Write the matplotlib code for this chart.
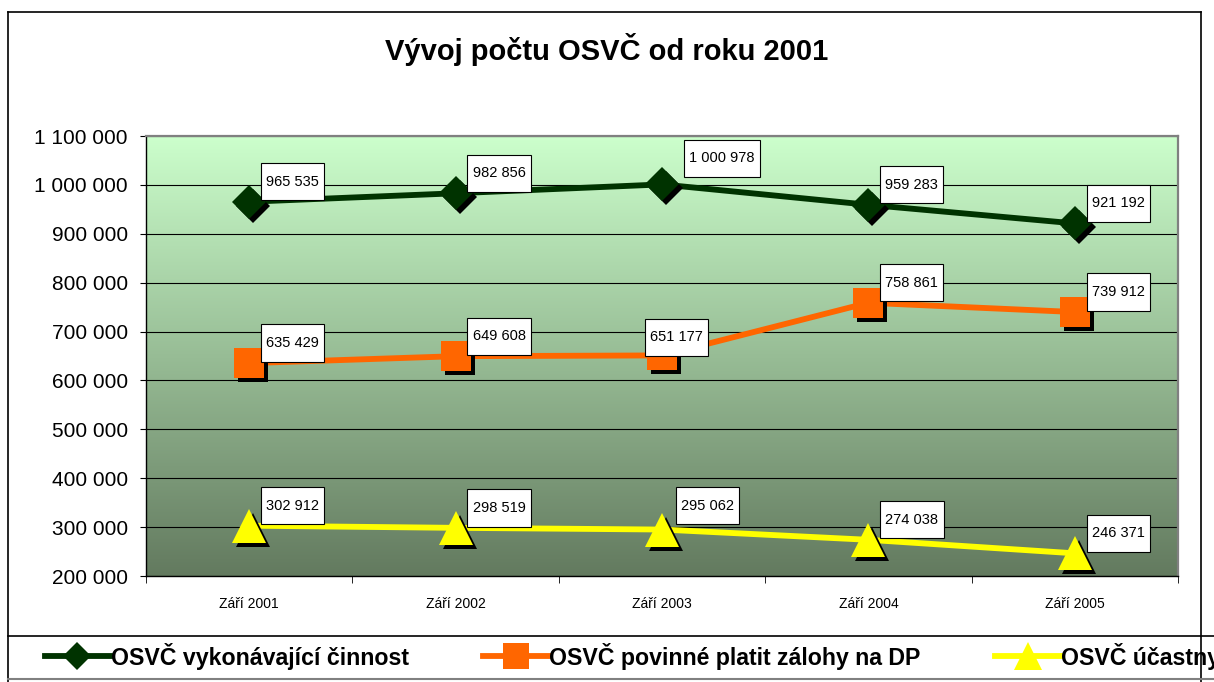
import numpy as np
import matplotlib
matplotlib.use('Agg')
import matplotlib.pyplot as plt
import matplotlib.transforms as mtransforms
from matplotlib.lines import Line2D
from matplotlib.path import Path
from matplotlib.ticker import FuncFormatter, FixedLocator

plt.rcParams['font.family'] = ['Liberation Sans', 'DejaVu Sans']

# data
months = ['Září 2001', 'Září 2002', 'Září 2003', 'Září 2004', 'Září 2005']
vykonavajici = [965535, 982856, 1000978, 959283, 921192]
zalohy_dp = [635429, 649608, 651177, 758861, 739912]
ucastni = [302912, 298519, 295062, 274038, 246371]
series_names = ['OSVČ vykonávající činnost',
                'OSVČ povinné platit zálohy na DP',
                'OSVČ účastny']

W, H = 1214, 682
fig = plt.figure(figsize=(W / 100, H / 100), dpi=100)
fig.patch.set_facecolor('white')
ax = fig.add_axes([146 / W, 1 - 576 / H, (1178 - 146) / W, (576 - 136) / H])

x = np.arange(len(months))
ax.set_xlim(-0.5, len(months) - 0.5)
ax.set_ylim(200000, 1100000)

# gradient plot area, light green at top -> dark grey green at bottom
top_c = np.array([204, 255, 204]) / 255
bot_c = np.array([99, 122, 95]) / 255
t = np.linspace(0, 1, 256)[:, None]
grad = (top_c[None, :] * (1 - t) + bot_c[None, :] * t)[:, None, :]
ax.imshow(grad, extent=(-0.5, len(months) - 0.5, 200000, 1100000),
          aspect='auto', zorder=0, origin='upper')

ax.yaxis.set_major_locator(FixedLocator(np.arange(200000, 1100001, 100000)))
ax.grid(axis='y', color='black', linewidth=0.8, zorder=1)
ax.yaxis.set_major_formatter(FuncFormatter(lambda v, p: f'{v:,.0f}'.replace(',', ' ')))
ax.tick_params(axis='y', labelsize=15, length=4, pad=9, color='black')

ax.set_xticks(x)
ax.set_xticklabels(months, fontsize=10)
ax.set_xticks(np.arange(-0.5, len(months), 1), minor=True)
ax.tick_params(axis='x', which='major', length=0, pad=15)
ax.tick_params(axis='x', which='minor', length=5, color='black')

for s in ['left', 'bottom']:
    ax.spines[s].set_color('black')
    ax.spines[s].set_linewidth(1)
for s in ['top', 'right']:
    ax.spines[s].set_color('#808080')
    ax.spines[s].set_linewidth(1.6)

shadow = mtransforms.offset_copy(ax.transData, fig=fig, x=4, y=-4, units='dots')

styles = [
    (vykonavajici, '#003300', 'D', 17.5),
    (zalohy_dp, '#FF6600', 's', 22),
    (ucastni, '#FFFF00', '^', 25),
]

handles = []
for (vals, col, mk, ms), name in zip(styles, series_names):
    ax.plot(x, vals, color=col, linewidth=4.2, zorder=3, solid_capstyle='butt')
    ax.plot(x, vals, linestyle='none', marker=mk, markersize=ms,
            color='black', markeredgewidth=0, transform=shadow, zorder=4)
    ax.plot(x, vals, linestyle='none', marker=mk, markersize=ms,
            color=col, markeredgewidth=0, zorder=5)
    handles.append(Line2D([], [], color=col, linewidth=4.2, marker=mk,
                          markersize=ms * 0.82, markeredgewidth=0, label=name))


def label_box(x0, y0, width, height, mutation_size):
    px = 0.35 * mutation_size
    py = 0.8 * mutation_size
    x0, y0 = x0 - px, y0 - py
    x1, y1 = x0 + width + 2 * px, y0 + height + 2 * py
    return Path([(x0, y0), (x1, y0), (x1, y1), (x0, y1), (x0, y0)], closed=True)


# label offsets in pixels (left edge, centre) from the marker
special = {1000978: (27, -26), 651177: (-12, -18), 295062: (19, -24)}
for vals in [vykonavajici, zalohy_dp, ucastni]:
    for xi, v in zip(x, vals):
        dx, dy = special.get(v, (17, -20))
        ax.annotate(f'{v:,}'.replace(',', ' '), (xi, v), xytext=(dx, -dy),
                    textcoords='offset pixels', ha='left', va='center',
                    fontsize=10.5, zorder=6,
                    bbox=dict(boxstyle=label_box, facecolor='white',
                              edgecolor='black', linewidth=0.8))

fig.text(0.5, 1 - 50 / H, 'Vývoj počtu OSVČ od roku 2001', ha='center',
         va='center', fontsize=21, fontweight='bold')

leg = fig.legend(handles=handles, loc='center left',
                 bbox_to_anchor=(45 / W, 1 - 656 / H), ncol=3, frameon=False,
                 prop={'size': 16.7, 'weight': 'bold'}, handlelength=2.8,
                 handletextpad=0.05, columnspacing=3.2, borderpad=0,
                 borderaxespad=0)

# outer chart border and legend box lines
def fline(xs, ys, color='black', lw=1.2):
    fig.add_artist(Line2D([v / W for v in xs], [1 - v / H for v in ys],
                          color=color, linewidth=lw, zorder=10))

fline([8, 1201], [12, 12])
fline([8, 8], [12, 682])
fline([1201, 1201], [12, 682])
fline([8, 1214], [636, 636])
fline([8, 1214], [679, 679], color='#808080', lw=1.5)

fig.savefig('out.png', dpi=100)
